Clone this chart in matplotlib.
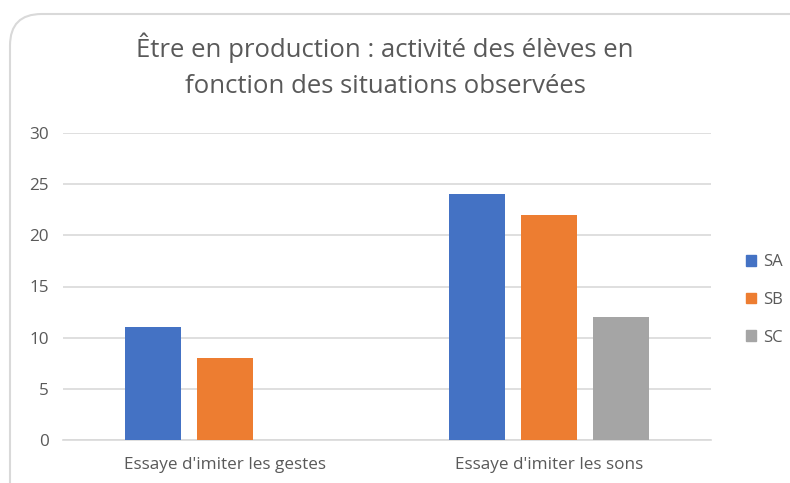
import numpy as np
import matplotlib
matplotlib.use("Agg")
import matplotlib.pyplot as plt
from matplotlib.patches import FancyBboxPatch, Patch

plt.rcParams['font.family'] = ['Open Sans', 'DejaVu Sans']

## Data ##
categories = ["Essaye d'imiter les gestes", "Essaye d'imiter les sons"]
series = ["SA", "SB", "SC"]
sa_vals = [11, 24]
sb_vals = [8, 22]
sc_vals = [0, 12]
colors = ["#4472c4", "#ed7d31", "#a5a5a5"]
yticks = [0, 5, 10, 15, 20, 25, 30]

W, H = 790, 483
fig = plt.figure(figsize=(W / 100, H / 100), dpi=100)

# rounded chart frame (goes off the right and bottom edges)
frame = FancyBboxPatch((10 / W, 1 - 14 / H - 1.2), 1.2, 1.2,
                       boxstyle="round,pad=0,rounding_size=0.04",
                       transform=fig.transFigure, fc="white", ec="#d9d9d9",
                       lw=1.5, mutation_aspect=W / H, zorder=-5)
fig.patches.append(frame)

ax = fig.add_axes([63 / W, 1 - 440 / H, (711 - 63) / W, (440 - 133) / H])
ax.set_zorder(2)
ax.set_facecolor("none")

x = np.arange(len(categories))
bw = 56 / 324
step = 72 / 324
for i, (name, vals) in enumerate(zip(series, [sa_vals, sb_vals, sc_vals])):
    ax.bar(x + (i - 1) * step, vals, width=bw, color=colors[i], label=name, zorder=3)

ax.set_xlim(-0.5, 1.5)
ax.set_ylim(0, 30)
ax.set_yticks(yticks)
ax.set_xticks(x)
ax.set_xticklabels(categories)
ax.grid(axis="y", color="#d9d9d9", lw=1.2, zorder=0)
for s in ["top", "right", "left"]:
    ax.spines[s].set_visible(False)
ax.spines["bottom"].set_color("#d9d9d9")
ax.spines["bottom"].set_linewidth(1.2)
ax.tick_params(length=0, colors="#595959", labelsize=12.3)
ax.tick_params(axis="y", pad=10)
ax.tick_params(axis="x", pad=12)

fig.text(385 / W, 1 - 66 / H, "Être en production : activité des élèves en\nfonction des situations observées",
         ha="center", va="center", fontsize=18.5, color="#595959", linespacing=1.6)

handles = [Patch(color=c) for c in colors]
fig.legend(handles, series, loc="center left", bbox_to_anchor=(746 / W, 1 - 300 / H),
           frameon=False, fontsize=12, labelcolor="#595959", borderpad=0, borderaxespad=0,
           handlelength=0.6, handleheight=0.6, handletextpad=0.4, labelspacing=1.3)

fig.savefig("out.png", dpi=100)
